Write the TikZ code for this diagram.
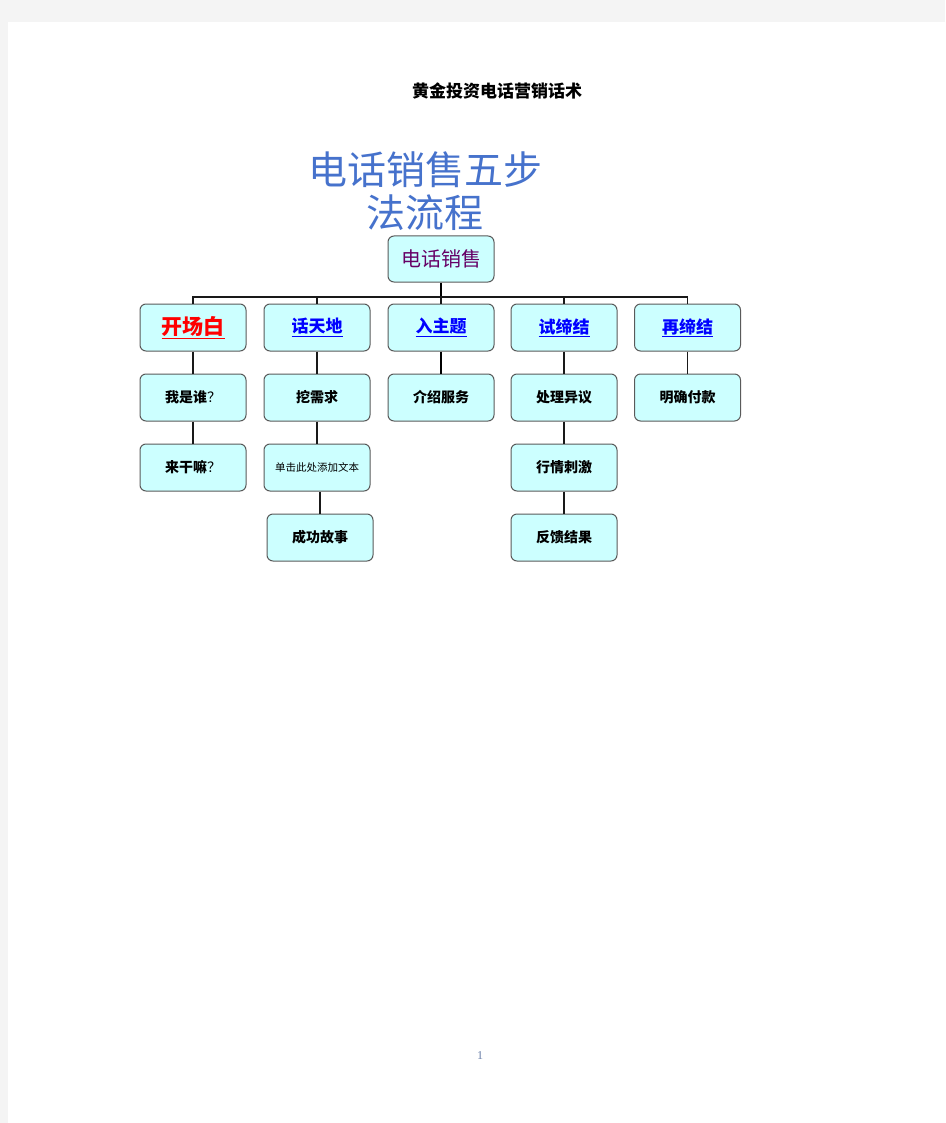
\documentclass[tikz,border=0pt]{standalone}
\usepackage{fontspec}
\setmainfont{Noto Sans CJK SC}
\newfontfamily\pagenum{Liberation Serif}
\definecolor{pagegray}{HTML}{F4F4F4}
\definecolor{boxfill}{HTML}{CCFFFF}
\definecolor{boxline}{HTML}{5A5A5A}
\definecolor{wordart}{HTML}{4672CC}
\definecolor{rootpurple}{HTML}{660066}
\definecolor{linkblue}{HTML}{0000FF}
\definecolor{pnum}{HTML}{6A7FA8}
\begin{document}
\begin{tikzpicture}[x=1pt,y=-1pt,
  box/.style={draw=boxline,line width=1pt,fill=boxfill,rounded corners=6pt,
    minimum width=106pt,minimum height=47pt,inner sep=0pt,align=center},
  l1/.style={font=\fontsize{17}{19}\selectfont\bfseries,text=linkblue},
  l2/.style={font=\fontsize{14}{16}\selectfont\bfseries},
  conn/.style={line width=1.4pt,draw=black!90},
  stem/.style={line width=2.6pt,draw=black}]
\useasboundingbox (0,0) rectangle (945,1123);
\fill[pagegray] (0,0) rectangle (945,1123);
\fill[white] (8,22) rectangle (945,1123);

\node[font=\fontsize{17}{19}\selectfont\bfseries] (title) at (497,91) {黄金投资电话营销话术};
\node[font=\fontsize{39}{43}\selectfont,text=wordart,align=center,inner sep=0pt] (heading) at (425,191)
  {电话销售五步\\[0pt]法流程};

% root
\node[box,minimum height=46pt,font=\fontsize{20}{22}\selectfont,text=rootpurple] (root) at (441,259) {电话销售};

% level 1
\node[box,font=\fontsize{21}{23}\selectfont\bfseries,text=red] (a1) at (193,327.5) {\raisebox{-2pt}{\underline{开场白}}};
\node[box,l1] (b1) at (317,327.5) {\raisebox{-2pt}{\underline{话天地}}};
\node[box,l1] (c1) at (441,327.5) {\raisebox{-2pt}{\underline{入主题}}};
\node[box,l1] (d1) at (564,327.5) {\raisebox{-2pt}{\underline{试缔结}}};
\node[box,l1] (e1) at (687.5,327.5) {\raisebox{-2pt}{\underline{再缔结}}};

% level 2
\node[box,l2] (a2) at (193,397.5) {我是谁{\mdseries ？}};
\node[box,l2] (b2) at (317,397.5) {挖需求};
\node[box,l2] (c2) at (441,397.5) {介绍服务};
\node[box,l2] (d2) at (564,397.5) {处理异议};
\node[box,l2] (e2) at (687.5,397.5) {明确付款};

% level 3
\node[box,l2] (a3) at (193,467.5) {来干嘛{\mdseries ？}};
\node[box,font=\fontsize{10.5}{12}\selectfont] (b3) at (317,467.5) {单击此处添加文本};
\node[box,l2] (d3) at (564,467.5) {行情刺激};

% level 4
\node[box,l2] (b4) at (320,537.5) {成功故事};
\node[box,l2] (d4) at (564,537.5) {反馈结果};

% bus
\coordinate (bus) at (441,297);
\draw[stem] (root.south) -- (bus);
\draw[conn] (a1.north) -- (a1.north |- bus) -- (e1.north |- bus) -- (e1.north);
\draw[conn] (b1.north) -- (b1.north |- bus);
\draw[conn] (c1.north) -- (c1.north |- bus);
\draw[conn] (d1.north) -- (d1.north |- bus);

% vertical links
\draw[conn] (a1) -- (a2);
\draw[conn] (a2) -- (a3);
\draw[conn] (b1) -- (b2);
\draw[conn] (b2) -- (b3);
\draw[conn] (b3.south -| b4.north) -- (b4.north);
\draw[stem,line width=2.2pt] (c1) -- (c2);
\draw[conn] (d1) -- (d2);
\draw[conn] (d2) -- (d3);
\draw[conn] (d3) -- (d4);
\draw[conn] (e1) -- (e2);

\node[font=\pagenum\fontsize{12}{14}\selectfont,text=pnum] (page) at (480,1056) {1};
\end{tikzpicture}
\end{document}
